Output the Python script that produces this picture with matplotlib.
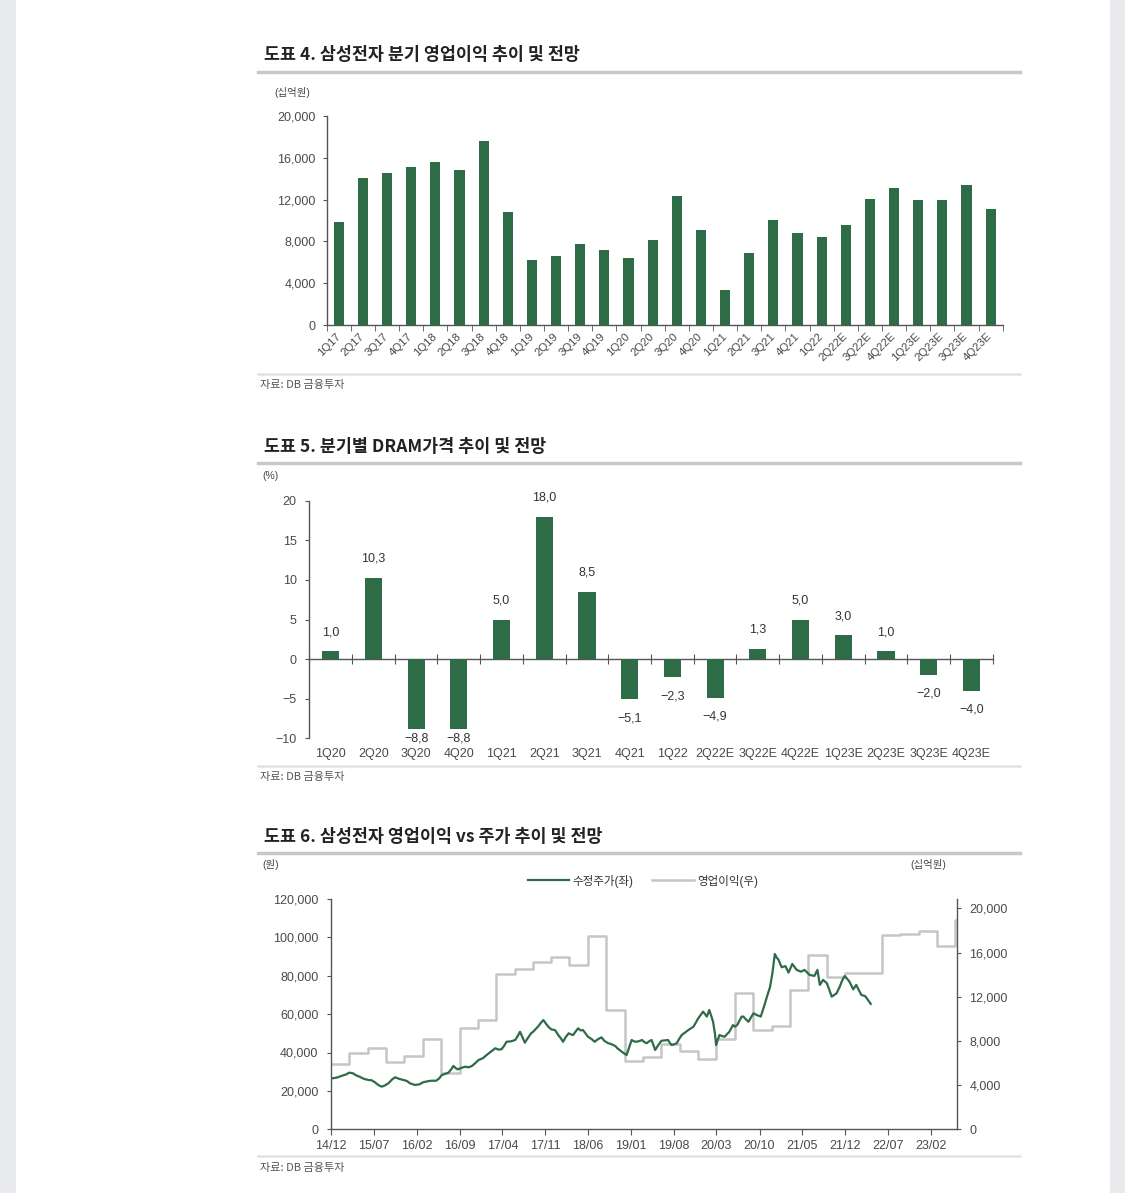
import numpy as np
import pandas as pd
import matplotlib
matplotlib.use('Agg')
import matplotlib.pyplot as plt
from matplotlib.lines import Line2D
from matplotlib.patches import Rectangle
import matplotlib.dates as mdates
from matplotlib.ticker import FuncFormatter, FixedLocator

plt.rcParams['font.family'] = ['Liberation Sans', 'Noto Sans CJK KR']
plt.rcParams['axes.unicode_minus'] = True

# ---------------- Chart 1 data: quarterly operating profit (십억원) ----------------
op_quarters = ['1Q17', '2Q17', '3Q17', '4Q17', '1Q18', '2Q18', '3Q18', '4Q18',
               '1Q19', '2Q19', '3Q19', '4Q19', '1Q20', '2Q20', '3Q20', '4Q20',
               '1Q21', '2Q21', '3Q21', '4Q21', '1Q22', '2Q22E', '3Q22E', '4Q22E',
               '1Q23E', '2Q23E', '3Q23E', '4Q23E']
op_profit = [9900, 14070, 14530, 15150, 15640, 14870, 17570, 10800,
             6230, 6600, 7780, 7160, 6450, 8150, 12350, 9050,
             3350, 6860, 10050, 8800, 8450, 9570, 12030, 13080,
             11930, 11930, 13370, 11100]

# ---------------- Chart 2 data: quarterly DRAM price change (%) ----------------
dram_quarters = ['1Q20', '2Q20', '3Q20', '4Q20', '1Q21', '2Q21', '3Q21', '4Q21',
                 '1Q22', '2Q22E', '3Q22E', '4Q22E', '1Q23E', '2Q23E', '3Q23E', '4Q23E']
dram_change = [1.0, 10.3, -8.8, -8.8, 5.0, 18.0, 8.5, -5.1,
               -2.3, -4.9, 1.3, 5.0, 3.0, 1.0, -2.0, -4.0]

# ---------------- Chart 3 data: adjusted share price (원) & operating profit (십억원) ----------------
price_dates = ['2014-12-01', '2014-12-13', '2015-01-01', '2015-01-22', '2015-02-15', '2015-03-01',
               '2015-03-19', '2015-04-07', '2015-04-22', '2015-05-13', '2015-06-04', '2015-06-22',
               '2015-07-07', '2015-07-25', '2015-08-10', '2015-08-25', '2015-09-13', '2015-10-01',
               '2015-10-16', '2015-11-04', '2015-11-25', '2015-12-13', '2015-12-28', '2016-01-22',
               '2016-02-13', '2016-03-04', '2016-03-25', '2016-04-13', '2016-05-07', '2016-05-22',
               '2016-06-04', '2016-06-19', '2016-07-07', '2016-07-19', '2016-08-01', '2016-08-13',
               '2016-08-22', '2016-09-10', '2016-09-28', '2016-10-16', '2016-11-01', '2016-11-19',
               '2016-12-04', '2016-12-25', '2017-01-13', '2017-02-04', '2017-02-25', '2017-03-13',
               '2017-03-28', '2017-04-10', '2017-04-22', '2017-05-13', '2017-06-04', '2017-06-16',
               '2017-06-28', '2017-07-10', '2017-07-22', '2017-08-01', '2017-08-10', '2017-08-22',
               '2017-09-01', '2017-09-16', '2017-09-28', '2017-10-10', '2017-10-22', '2017-11-04',
               '2017-11-16', '2017-12-01', '2017-12-19', '2018-01-04', '2018-01-16', '2018-01-28',
               '2018-02-10', '2018-02-25', '2018-03-07', '2018-03-19', '2018-04-01', '2018-04-13',
               '2018-04-25', '2018-05-07', '2018-05-19', '2018-06-01', '2018-06-19', '2018-07-04',
               '2018-07-19', '2018-08-07', '2018-08-22', '2018-09-10', '2018-09-22', '2018-10-04',
               '2018-10-16', '2018-10-25', '2018-11-07', '2018-11-16', '2018-11-28', '2018-12-10',
               '2018-12-22', '2019-01-04', '2019-01-16', '2019-01-28', '2019-02-13', '2019-02-25',
               '2019-03-07', '2019-03-19', '2019-04-01', '2019-04-13', '2019-04-22', '2019-05-01',
               '2019-05-16', '2019-06-01', '2019-06-19', '2019-07-04', '2019-07-13', '2019-07-22',
               '2019-08-04', '2019-08-16', '2019-08-28', '2019-09-10', '2019-09-28', '2019-10-13',
               '2019-10-25', '2019-11-07', '2019-11-19', '2019-12-01', '2019-12-13', '2019-12-25',
               '2020-01-04', '2020-01-13', '2020-01-25', '2020-02-04', '2020-02-13', '2020-02-22',
               '2020-02-28', '2020-03-07', '2020-03-16', '2020-03-28', '2020-04-10', '2020-04-22',
               '2020-05-04', '2020-05-22', '2020-06-01', '2020-06-13', '2020-07-04', '2020-07-13',
               '2020-07-25', '2020-08-07', '2020-08-19', '2020-09-01', '2020-09-16', '2020-10-07',
               '2020-10-22', '2020-11-07', '2020-11-22', '2020-12-04', '2020-12-16', '2020-12-25',
               '2021-01-04', '2021-01-19', '2021-02-07', '2021-02-22', '2021-03-13', '2021-04-04',
               '2021-04-25', '2021-05-13', '2021-06-07', '2021-07-01', '2021-07-16', '2021-07-28',
               '2021-08-13', '2021-09-01', '2021-09-25', '2021-10-19', '2021-11-04', '2021-11-16',
               '2021-11-28', '2021-12-10', '2021-12-22', '2022-01-10', '2022-01-25', '2022-02-07',
               '2022-02-19', '2022-03-10', '2022-03-22', '2022-04-07']
price_values = [26600, 26600, 27000, 27800, 28600, 29500,
                29200, 28000, 27400, 26300, 25700, 25500,
                24500, 23000, 22200, 22800, 24000, 26000,
                27100, 26300, 25700, 25200, 24000, 23100,
                23400, 24500, 25000, 25300, 25300, 26500,
                28300, 28800, 29500, 31000, 33000, 31800,
                31200, 32000, 32600, 32300, 33000, 34600,
                36100, 37000, 38700, 40500, 42200, 41500,
                41700, 43500, 45600, 45800, 46500, 48500,
                50800, 48000, 45100, 46800, 48200, 50000,
                50800, 52500, 53800, 55500, 56900, 55000,
                53400, 52000, 51700, 49100, 47500, 45600,
                48000, 50000, 49500, 49100, 51000, 52600,
                51500, 51700, 50000, 48200, 47000, 45600,
                46800, 47900, 46000, 44800, 44500, 43900,
                43300, 42200, 41200, 40400, 39500, 38700,
                42500, 46500, 45800, 45600, 46000, 46500,
                45500, 44800, 45800, 46500, 44000, 41300,
                43800, 46100, 46300, 46500, 45000, 43900,
                44300, 44800, 47000, 49100, 50500, 51700,
                52500, 53400, 55500, 57800, 59500, 61300,
                60000, 58700, 62100, 59000, 56000, 50000,
                43900, 46500, 49100, 48600, 48200, 49500,
                50800, 54300, 53400, 54500, 58700, 58700,
                57300, 56000, 58200, 60400, 59600, 58700,
                63500, 69100, 74000, 81300, 91300, 89500,
                88200, 84400, 85000, 81600, 86100, 83000,
                82100, 83000, 80400, 79900, 83000, 75200,
                77800, 76100, 69100, 70800, 74300, 77500,
                79800, 78500, 76900, 72900, 75200, 72500,
                70000, 69400, 67700, 65300]

op_step_start = '2014-12-01'   # quarterly steps
op_step_values = [5910, 6880, 7390, 6070, 6670, 8150, 5130, 9200, 9900, 14070,
                  14490, 15110, 15640, 14880, 17540, 10810, 6190, 6580, 7700, 7090,
                  6340, 8150, 12350, 8990, 9360, 12620, 15790, 13820, 14130, 14130,
                  17600, 17690, 17960, 16600, 18970]
x_tick_dates = ['2014-12-01', '2015-07-01', '2016-02-01', '2016-09-01', '2017-04-01',
                '2017-11-01', '2018-06-01', '2019-01-01', '2019-08-01', '2020-03-01',
                '2020-10-01', '2021-05-01', '2021-12-01', '2022-07-01', '2023-02-01']

# ---------------- styling ----------------
W, H = 1125, 1193
GREEN = '#2e6b47'
GRAYLINE = '#c6c6c6'
TXT = '#222222'
TICK = '#4a4a4a'
SPINE = '#555555'
TICKFS = 9


def fx(px):
    return px / W


def fy(py):
    return 1 - py / H


def axes_rect(left, right, top, bottom):
    return [fx(left), fy(bottom), (right - left) / W, (bottom - top) / H]


fig = plt.figure(figsize=(W / 100, H / 100), dpi=100, facecolor='#e9eaee')
fig.add_artist(Rectangle((fx(16), 0), fx(1110) - fx(16), 1, transform=fig.transFigure,
                         facecolor='white', edgecolor='none', zorder=-5))


def header(title, title_y, line_y, src_line_y, src_y):
    fig.text(fx(264), fy(title_y), title, fontsize=12.5, fontweight='bold', color=TXT,
             va='center', ha='left', family=['Noto Sans CJK KR'])
    fig.add_artist(Line2D([fx(258), fx(1020)], [fy(line_y)] * 2, color='#c8c8c8', lw=2.5,
                          transform=fig.transFigure))
    fig.add_artist(Line2D([fx(258), fx(1020)], [fy(src_line_y)] * 2, color='#e2e2e2', lw=1.8,
                          transform=fig.transFigure))
    fig.text(fx(260), fy(src_y), '자료: DB 금융투자', fontsize=8, color='#555555',
             va='center', ha='left', family=['Noto Sans CJK KR'])


def style_spines(ax, which):
    for s in ['top', 'right', 'left', 'bottom']:
        ax.spines[s].set_visible(s in which)
        ax.spines[s].set_color(SPINE)
        ax.spines[s].set_linewidth(1.0)


# ======================= Chart 1 =======================
header('도표 4. 삼성전자 분기 영업이익 추이 및 전망', 55, 72, 374, 385)
fig.text(fx(274), fy(92), '(십억원)', fontsize=7.5, color='#444444', va='center', ha='left')
ax1 = fig.add_axes(axes_rect(326.7, 1002.7, 116, 325))
ax1.set_facecolor('none')
x1 = np.arange(len(op_quarters))
ax1.bar(x1, op_profit, width=0.42, color=GREEN, zorder=3)
ax1.set_xlim(-0.5, len(op_quarters) - 0.5)
ax1.set_ylim(0, 20000)
ax1.set_yticks(np.arange(0, 20001, 4000))
ax1.yaxis.set_major_formatter(FuncFormatter(lambda v, p: f'{int(v):,}'))
ax1.set_xticks(x1)
ax1.set_xticklabels(op_quarters)
ax1.xaxis.set_minor_locator(FixedLocator(np.arange(-0.5, len(op_quarters), 1)))
ax1.tick_params(axis='x', which='major', length=0, pad=7, labelsize=8.2, labelcolor=TICK)
ax1.tick_params(axis='x', which='minor', length=4, color=SPINE, direction='out')
ax1.tick_params(axis='y', length=3, color=SPINE, labelsize=TICKFS, labelcolor=TICK, pad=5)
for lab in ax1.get_xticklabels():
    lab.set_rotation(45)
    lab.set_ha('right')
    lab.set_va('center')
    lab.set_rotation_mode('anchor')
style_spines(ax1, ['left', 'bottom'])

# ======================= Chart 2 =======================
header('도표 5. 분기별 DRAM가격 추이 및 전망', 447, 463, 766, 777)
fig.text(fx(262), fy(476), '(%)', fontsize=7.5, color='#444444', va='center', ha='left')
ax2 = fig.add_axes(axes_rect(309.3, 992.8, 500.7, 738.3))
ax2.set_facecolor('none')
x2 = np.arange(len(dram_quarters))
ax2.bar(x2, dram_change, width=0.4, color=GREEN, zorder=3)
ax2.set_xlim(-0.5, len(dram_quarters) - 0.5)
ax2.set_ylim(-10, 20)
ax2.set_yticks(np.arange(-10, 21, 5))
ax2.tick_params(axis='y', length=3, color=SPINE, labelsize=TICKFS, labelcolor=TICK, pad=6)
style_spines(ax2, ['left', 'bottom'])
ax2.spines['bottom'].set_position(('data', 0))
ax2.set_xticks(np.arange(-0.5, len(dram_quarters), 1))
ax2.set_xticklabels([])
ax2.tick_params(axis='x', direction='inout', length=7, color=SPINE)
sec = ax2.secondary_xaxis(0.0)
sec.set_xticks(x2)
sec.set_xticklabels(dram_quarters)
sec.tick_params(length=0, pad=7, labelsize=TICKFS, labelcolor=TICK)
sec.spines['bottom'].set_visible(False)
off = 2.4
for xi, v in zip(x2, dram_change):
    lab = f'{abs(v):.1f}'.replace('.', ',')
    if v < 0:
        lab = '\u2212' + lab
        ypos = max(v - off, -10.0)
    else:
        ypos = v + off
    ax2.text(xi, ypos, lab, ha='center', va='center', fontsize=TICKFS, color='#333333')

# ======================= Chart 3 =======================
header('도표 6. 삼성전자 영업이익 vs 주가 추이 및 전망', 837, 853, 1156, 1168)
fig.text(fx(262), fy(864), '(원)', fontsize=7.5, color='#444444', va='center', ha='left')
fig.text(fx(946), fy(864), '(십억원)', fontsize=7.5, color='#444444', va='center', ha='right')
ax3 = fig.add_axes(axes_rect(331, 957, 898.9, 1129.3))
ax3r = ax3.twinx()
pdates = pd.to_datetime(price_dates)
step_dates = pd.date_range(op_step_start, periods=len(op_step_values) + 1, freq='3MS')
ax3r.step(step_dates, op_step_values + [op_step_values[-1]], where='post', color=GRAYLINE,
          lw=1.8, label='영업이익(우)')
ax3.plot(pdates, price_values, color=GREEN, lw=1.6, label='수정주가(좌)')
ax3.set_zorder(ax3r.get_zorder() + 1)
ax3.patch.set_visible(False)
ax3.set_xlim(pd.Timestamp('2014-12-01'), pd.Timestamp('2023-06-10'))
ax3.set_ylim(0, 120000)
ax3r.set_ylim(0, 20860)
ax3.set_yticks(np.arange(0, 120001, 20000))
ax3r.set_yticks(np.arange(0, 20001, 4000))
fmt = FuncFormatter(lambda v, p: f'{int(v):,}')
ax3.yaxis.set_major_formatter(fmt)
ax3r.yaxis.set_major_formatter(fmt)
ax3.set_xticks(pd.to_datetime(x_tick_dates))
ax3.xaxis.set_major_formatter(mdates.DateFormatter('%y/%m'))
ax3.tick_params(axis='x', length=4, color=SPINE, labelsize=TICKFS, labelcolor=TICK, pad=4)
ax3.tick_params(axis='y', length=3, color=SPINE, labelsize=TICKFS, labelcolor=TICK, pad=6)
ax3r.tick_params(axis='y', length=3, color=SPINE, labelsize=TICKFS, labelcolor=TICK, pad=6)
style_spines(ax3, ['left', 'bottom'])
style_spines(ax3r, ['right'])
h1, l1 = ax3.get_legend_handles_labels()
h2, l2 = ax3r.get_legend_handles_labels()
fig.legend(h1 + h2, l1 + l2, loc='center', bbox_to_anchor=(fx(643), fy(881)), ncol=2,
           frameon=False, fontsize=8.3, handlelength=3.6, handletextpad=0.3,
           columnspacing=1.6, labelcolor='#333333')

fig.savefig('out.png', dpi=100, facecolor=fig.get_facecolor())
